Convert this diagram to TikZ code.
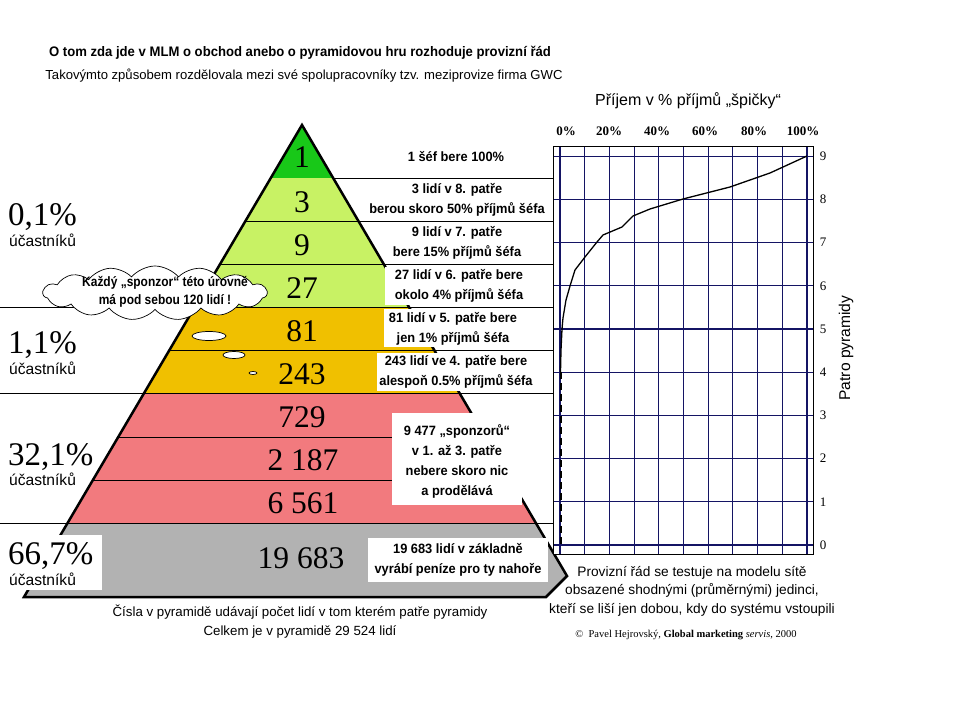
\documentclass[tikz,border=0pt]{standalone}
\usepackage{fontspec}
\setmainfont{Liberation Sans}
\newfontfamily\tnr{Liberation Serif}
\newfontfamily\nbf{Liberation Sans}[FakeStretch=0.95]
\newfontfamily\nbfc{Liberation Sans}[FakeStretch=0.88]
\usetikzlibrary{shapes.symbols}
\definecolor{cgreen}{RGB}{24,200,24}
\definecolor{clgreen}{RGB}{200,242,100}
\definecolor{corange}{RGB}{240,192,0}
\definecolor{cpink}{RGB}{242,122,126}
\definecolor{cgray}{RGB}{178,178,178}
\definecolor{cgrid}{RGB}{20,20,100}
\begin{document}
\begin{tikzpicture}[x=1pt,y=-1pt,
  lbl/.style={font=\nbf\bfseries\fontsize{13.5}{20}\selectfont, align=center, inner sep=0},
  num/.style={font=\tnr\fontsize{31.5}{31.5}\selectfont, inner sep=0},
  pct/.style={font=\tnr\fontsize{33}{33}\selectfont, anchor=base west, inner sep=0},
  uc/.style={font=\fontsize{15.6}{15.6}\selectfont, anchor=base west, inner sep=0},
  note/.style={font=\fontsize{13.3}{19}\selectfont, align=center, inner sep=0},
  gridline/.style={draw=cgrid, line width=1.1},
  axlbl/.style={font=\tnr\bfseries\fontsize{13}{13}\selectfont, inner sep=0},
  lvl/.style={font=\tnr\fontsize{13}{13}\selectfont, inner sep=0},
  wbox/.style={fill=white}]
\useasboundingbox (0,0) rectangle (959,719);
\fill[white] (0,0) rectangle (959,719);

% titles
\node[font=\nbf\bfseries\fontsize{13.8}{13.8}\selectfont, inner sep=0] (title) at (300,53) {O tom zda jde v MLM o obchod anebo o pyramidovou hru rozhoduje provizní řád};
\node[font=\fontsize{13.1}{13.1}\selectfont, inner sep=0] (subtitle) at (304,76) {Takovýmto způsobem rozdělovala mezi své spolupracovníky tzv. meziprovize firma GWC};

% pyramid fill
\begin{scope}
\clip (302,125) -- (567,576) -- (546,597) -- (24,597) -- cycle;
\fill[cgreen] (0,120) rectangle (600,178);
\fill[clgreen] (0,178) rectangle (600,307);
\fill[corange] (0,307) rectangle (600,393);
\fill[cpink] (0,393) rectangle (600,523);
\fill[cgray] (0,523) rectangle (600,600);
\foreach \yy in {221,264,307,350,437,480,523} \draw[line width=0.8] (0,\yy) -- (600,\yy);
\end{scope}
\draw[line width=2.5, line join=miter] (302,125) -- (567,576) -- (546,597) -- (24,597) -- cycle;

% white label boxes
\fill[wbox] (385,267) rectangle (553,305);
\fill[wbox] (384,309) rectangle (553,347);
\fill[wbox] (377,353) rectangle (553,391);
\fill[wbox] (392,413) rectangle (522,505);
\fill[wbox] (368,538) rectangle (548,582);
\fill[wbox] (3,535) rectangle (102,590);

% horizontal guide lines
\draw[line width=0.8] (333,178) -- (553,178);
\draw[line width=0.8] (358,221) -- (553,221);
\draw[line width=0.8] (384,264) -- (553,264);
\draw[line width=0.8] (0,307) -- (553,307);
\draw[line width=0.8] (434,350) -- (553,350);
\draw[line width=0.8] (0,393) -- (553,393);
\draw[line width=0.8] (0,523) -- (553,523);

% pyramid numbers
\node[num] (n1) at (302,157) {1};
\node[num] (n3) at (302,202) {3};
\node[num] (n9) at (302,245) {9};
\node[num] (n27) at (302,288) {27};
\node[num] (n81) at (302,331) {81};
\node[num] (n243) at (302,374) {243};
\node[num] (n729) at (302,417) {729};
\node[num] (n2187) at (303,460) {2 187};
\node[num] (n6561) at (303,503) {6 561};
\node[num] (n19683) at (301,558) {19 683};

% right labels
\node[lbl] (l1) at (456,157) {1 šéf bere 100\%};
\node[lbl] (l3) at (457,200) {3 lidí v 8. patře\\berou skoro 50\% příjmů šéfa};
\node[lbl] (l9) at (457,243) {9 lidí v 7. patře\\bere 15\% příjmů šéfa};
\node[lbl] (l27) at (459,286) {27 lidí v 6. patře bere\\okolo 4\% příjmů šéfa};
\node[lbl] (l81) at (453,329) {81 lidí v 5. patře bere\\jen 1\% příjmů šéfa};
\node[lbl] (l243) at (456,372) {243 lidí ve 4. patře bere\\alespoň 0.5\% příjmů šéfa};
\node[lbl] (l9477) at (457,461) {9 477 „sponzorů“\\v 1. až 3. patře\\nebere skoro nic\\a prodělává};
\node[lbl] (l19683) at (458,560) {19 683 lidí v základně\\vyrábí peníze pro ty nahoře};

% left percentages
\node[pct] (p1) at (8,226) {0,1\%};
\node[uc] (u1) at (9,247) {účastníků};
\node[pct] (p2) at (8,354) {1,1\%};
\node[uc] (u2) at (9,375) {účastníků};
\node[pct] (p3) at (8,465) {32,1\%};
\node[uc] (u3) at (9,485) {účastníků};
\node[pct] (p4) at (8,564) {66,7\%};
\node[uc] (u4) at (9,585) {účastníků};

% cloud callout
\node[cloud, cloud puffs=15, cloud puff arc=100, aspect=4.4, draw, fill=white, line width=0.7,
      minimum width=224, minimum height=54, inner sep=0] (cloud) at (155,293) {};
\node[lbl, font=\nbfc\bfseries\fontsize{13.6}{18}\selectfont] (cloudtxt) at (165,292) {Každý „sponzor“ této úrovně\\má pod sebou 120 lidí !};
\draw[fill=white, line width=0.7] (209,336) ellipse [x radius=17, y radius=4.5];
\draw[fill=white, line width=0.7] (234,355) ellipse [x radius=11, y radius=3.5];
\draw[fill=white, line width=0.7] (253,373) ellipse [x radius=4, y radius=1.5];

% bottom notes
\node[note] (bottom) at (300,622) {Čísla v pyramidě udávají počet lidí v tom kterém patře pyramidy\\Celkem je v pyramidě 29 524 lidí};

% chart
\node[font=\fontsize{16}{16}\selectfont, inner sep=0] (ctitle) at (688,101) {Příjem v \% příjmů „špičky“};
\node[axlbl] (a0) at (566,131) {0\%};
\node[axlbl] (a20) at (609,131) {20\%};
\node[axlbl] (a40) at (657,131) {40\%};
\node[axlbl] (a60) at (705,131) {60\%};
\node[axlbl] (a80) at (754,131) {80\%};
\node[axlbl] (a100) at (803,131) {100\%};
\fill[white] (553,147) rectangle (813,554);
\foreach \i in {0,...,10} \draw[gridline] ({560+24.7*\i},147) -- ({560+24.7*\i},554);
\foreach \k in {0,...,9} {
  \draw[gridline] (553,{545-43.2*\k}) -- (813,{545-43.2*\k});
  \node[lvl] (lv\k) at (823,{545-43.2*\k}) {\k};
}
\draw[line width=1] (553,147) rectangle (813,554);
\node[font=\fontsize{15.6}{15.6}\selectfont, rotate=90, inner sep=0] (ytitle) at (846,348) {Patro pyramidy};
\draw[line width=1.3, line join=round] (807,156) -- (770,173) -- (730,187) -- (683,199) -- (650,209) -- (633,216) -- (622,227) -- (603,235) -- (597,242) -- (585,257) -- (575,270) -- (570,286) -- (566,300) -- (563,318) -- (562,329) -- (561,350) -- (560.5,372);
\draw[line width=2, dash pattern=on 7pt off 4pt] (560.5,372) -- (560.5,545);

\node[font=\fontsize{13.7}{18.5}\selectfont, align=center, inner sep=0] (model) at (692,591) {Provizní řád se testuje na modelu sítě\\obsazené shodnými (průměrnými) jedinci,\\kteří se liší jen dobou, kdy do systému vstoupili};
\node[font=\tnr\fontsize{10.5}{10.5}\selectfont, inner sep=0] (copy) at (686,635) {©\ \ Pavel Hejrovský, \textbf{Global marketing} \textit{servis}, 2000};
\end{tikzpicture}
\end{document}
